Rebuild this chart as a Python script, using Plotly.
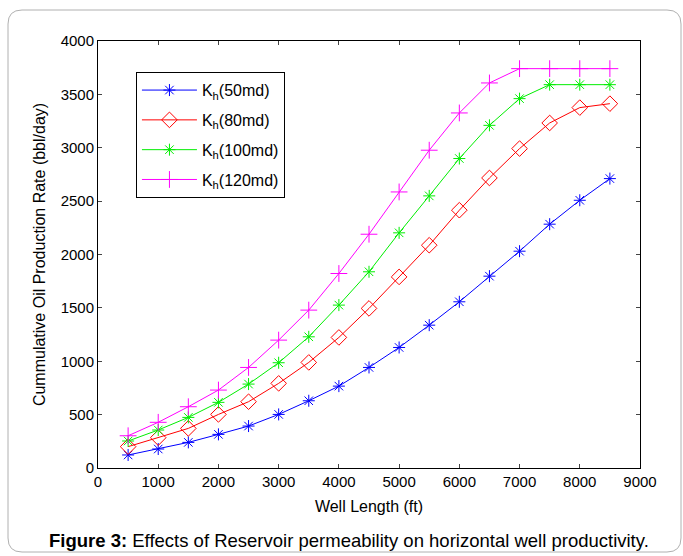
import plotly.graph_objects as go

well_length = [500, 1000, 1500, 2000, 2500, 3000, 3500, 4000, 4500, 5000, 5500, 6000, 6500, 7000, 7500, 8000, 8500]
kh50 = [122, 178, 240, 315, 393, 502, 630, 767, 942, 1129, 1338, 1557, 1797, 2031, 2284, 2508, 2711]
kh80 = [200, 284, 371, 502, 621, 793, 989, 1223, 1495, 1790, 2087, 2415, 2717, 2992, 3232, 3376, 3413]
kh100 = [253, 356, 474, 615, 786, 986, 1229, 1526, 1838, 2203, 2549, 2899, 3210, 3460, 3591, 3591, 3591]
kh120 = [302, 428, 574, 730, 942, 1198, 1479, 1822, 2190, 2586, 2977, 3326, 3607, 3741, 3741, 3741, 3741]

series = [
    ("K<sub>h</sub>(50md)", kh50, "#0000ff", "asterisk-open", 10),
    ("K<sub>h</sub>(80md)", kh80, "#ff0000", "diamond-open", 12),
    ("K<sub>h</sub>(100md)", kh100, "#00ee00", "asterisk-open", 10),
    ("K<sub>h</sub>(120md)", kh120, "#ff00ff", "cross-thin-open", 12),
]

fig = go.Figure()
for i, (name, vals, col, sym, sz) in enumerate(series):
    fig.add_trace(go.Scatter(
        x=well_length, y=vals, name=name, mode="lines+markers",
        line=dict(color=col, width=1),
        marker=dict(symbol=sym, size=sz, color=col, line=dict(color=col, width=1)),
        legendgroup=str(i),
    ))

fam = "Arial, Liberation Sans, sans-serif"
fig.update_layout(
    width=683, height=556,
    margin=dict(l=98, r=43, t=41, b=88),
    paper_bgcolor="white", plot_bgcolor="white",
    font=dict(family=fam, size=15, color="black"),
    showlegend=True,
    legend=dict(x=0.070, y=0.927, xanchor="left", yanchor="top",
                bordercolor="black", borderwidth=1, bgcolor="white",
                font=dict(family=fam, size=16),
                itemwidth=55,
                tracegroupgap=6, traceorder="grouped"),
    xaxis=dict(range=[0, 9000], tickvals=list(range(0, 9001, 1000)),
               ticks="inside", ticklen=4, showline=True, linecolor="black", linewidth=1,
               mirror="ticks", showgrid=False, zeroline=False,
               title=dict(text="Well Length (ft)", standoff=11, font=dict(size=16))),
    yaxis=dict(range=[0, 4000], tickvals=list(range(0, 4001, 500)),
               ticks="inside", ticklen=4, showline=True, linecolor="black", linewidth=1,
               mirror="ticks", showgrid=False, zeroline=False,
               title=dict(text="Cummulative Oil Production Rate (bbl/day)", standoff=11,
                          font=dict(size=16))),
)

# rounded frame around the figure
x0, y0, x1, y1, r = 8, 10, 681, 552, 14
def px(x):
    return (x - 98) / 542
def py(y):
    return (468 - y) / 427
path = (f"M {px(x0 + r)} {py(y0)} L {px(x1 - r)} {py(y0)} "
        f"Q {px(x1)} {py(y0)} {px(x1)} {py(y0 + r)} L {px(x1)} {py(y1 - r)} "
        f"Q {px(x1)} {py(y1)} {px(x1 - r)} {py(y1)} L {px(x0 + r)} {py(y1)} "
        f"Q {px(x0)} {py(y1)} {px(x0)} {py(y1 - r)} L {px(x0)} {py(y0 + r)} "
        f"Q {px(x0)} {py(y0)} {px(x0 + r)} {py(y0)} Z")
fig.add_shape(type="path", path=path, xref="paper", yref="paper",
              line=dict(color="#b0b0b0", width=1), layer="below")

fig.add_annotation(
    text="<b>Figure 3:</b> Effects of Reservoir permeability on horizontal well productivity.",
    xref="paper", yref="paper", x=px(349), y=py(540), xanchor="center", yanchor="middle",
    showarrow=False, font=dict(family=fam, size=18.5, color="black"),
)

fig.write_html("out.html")
